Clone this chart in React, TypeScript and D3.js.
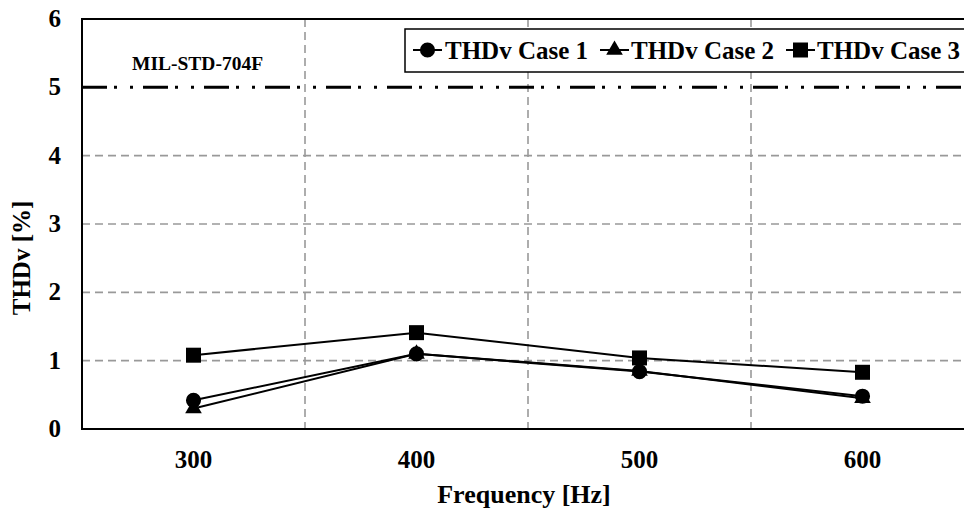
import React from "react";
import * as d3 from "d3";

// Frequency categories and THDv readings (%)
const frequencies = ["300", "400", "500", "600"];
const case1 = [0.42, 1.1, 0.84, 0.48];
const case2 = [0.3, 1.1, 0.85, 0.45];
const case3 = [1.08, 1.41, 1.04, 0.83];
const seriesNames = ["THDv Case 1", "THDv Case 2", "THDv Case 3"];
const yTicks = [0, 1, 2, 3, 4, 5, 6];
const limitValue = 5;
const limitLabel = "MIL-STD-704F";

const W = 964;
const H = 510;
const left = 82;
const right = 974;
const top = 19;
const bottom = 429;
const FONT = '"Liberation Serif", "Times New Roman", "DejaVu Serif", serif';
const txt: React.CSSProperties = { fontFamily: FONT, fontWeight: 700 };

const symbols = [d3.symbolCircle, d3.symbolTriangle, d3.symbolSquare];
const symbolSizes = [180, 120, 225];
// draw order: squares, triangles, then circles on top
const drawOrder = [2, 1, 0];

export default function App() {
  const x = d3.scaleBand<string>().domain(frequencies).range([left, right]).padding(0);
  const y = d3.scaleLinear().domain([0, 6]).range([bottom, top]);
  const cx = (c: string) => (x(c) as number) + x.bandwidth() / 2;

  const series = [case1, case2, case3];
  const line = d3
    .line<number>()
    .x((_, i) => cx(frequencies[i]))
    .y((v) => y(v));

  const sym = (i: number) => d3.symbol().type(symbols[i]).size(symbolSizes[i])() as string;

  const legendItems = [
    { lx: 413, tx: 445 },
    { lx: 600, tx: 631 },
    { lx: 786, tx: 817 },
  ];

  return (
    <svg
      width={W}
      height={H}
      style={{ position: "absolute", left: 0, top: 0, background: "#fff" }}
    >
      <rect x={0} y={0} width={W} height={H} fill="#fff" />
      {/* horizontal grid */}
      {yTicks
        .filter((t) => t > 0 && t < limitValue)
        .map((t) => (
          <line
            key={"hg" + t}
            x1={left}
            x2={W}
            y1={y(t)}
            y2={y(t)}
            stroke="#999"
            strokeWidth={1.6}
            strokeDasharray="8 5"
          />
        ))}
      {/* vertical grid at category boundaries */}
      {frequencies.slice(1).map((f) => (
        <line
          key={"vg" + f}
          x1={x(f) as number}
          x2={x(f) as number}
          y1={top}
          y2={bottom}
          stroke="#999"
          strokeWidth={1.6}
          strokeDasharray="8 5"
        />
      ))}
      {/* limit line */}
      <line
        x1={left}
        x2={W}
        y1={y(limitValue)}
        y2={y(limitValue)}
        stroke="#000"
        strokeWidth={3}
        strokeDasharray="25 7 3 13 3 10"
      />
      <text x={132} y={70} fontSize={19.5} style={txt} fill="#000">
        {limitLabel}
      </text>
      {/* axes frame */}
      <line x1={left} x2={W} y1={top} y2={top} stroke="#000" strokeWidth={2} />
      <line x1={left} x2={left} y1={top - 1} y2={bottom + 1} stroke="#000" strokeWidth={2} />
      <line x1={left} x2={W} y1={bottom} y2={bottom} stroke="#000" strokeWidth={2} />
      {/* y tick labels */}
      {yTicks.map((t) => (
        <text key={"yt" + t} x={61} y={y(t) + 8} textAnchor="end" fontSize={25} style={txt} fill="#000">
          {t}
        </text>
      ))}
      {/* x tick labels */}
      {frequencies.map((f) => (
        <text key={"xt" + f} x={cx(f)} y={468} textAnchor="middle" fontSize={25} style={txt} fill="#000">
          {f}
        </text>
      ))}
      <text x={524} y={503} textAnchor="middle" fontSize={26} style={txt} fill="#000">
        Frequency [Hz]
      </text>
      <text
        transform={`translate(30,258) rotate(-90)`}
        textAnchor="middle"
        fontSize={25}
        style={txt}
        fill="#000"
      >
        THDv [%]
      </text>
      {/* series */}
      {drawOrder.map((si) => {
        const vals = series[si];
        return (
          <g key={"s" + si}>
            <path d={line(vals) as string} fill="none" stroke="#000" strokeWidth={2} />
            {vals.map((v, i) => (
              <path
                key={i}
                d={sym(si)}
                transform={`translate(${cx(frequencies[i])},${y(v)})`}
                fill="#000"
              />
            ))}
          </g>
        );
      })}
      {/* legend */}
      <rect x={405} y={29} width={600} height={43} fill="#fff" stroke="#000" strokeWidth={1.5} />
      {legendItems.map((it, i) => (
        <g key={"lg" + i}>
          <line x1={it.lx} x2={it.lx + 29} y1={50} y2={50} stroke="#000" strokeWidth={2} />
          <path d={sym(i)} transform={`translate(${it.lx + 14.5},50)`} fill="#000" />
          <text x={it.tx} y={59} fontSize={25} style={txt} fill="#000">
            {seriesNames[i]}
          </text>
        </g>
      ))}
    </svg>
  );
}
